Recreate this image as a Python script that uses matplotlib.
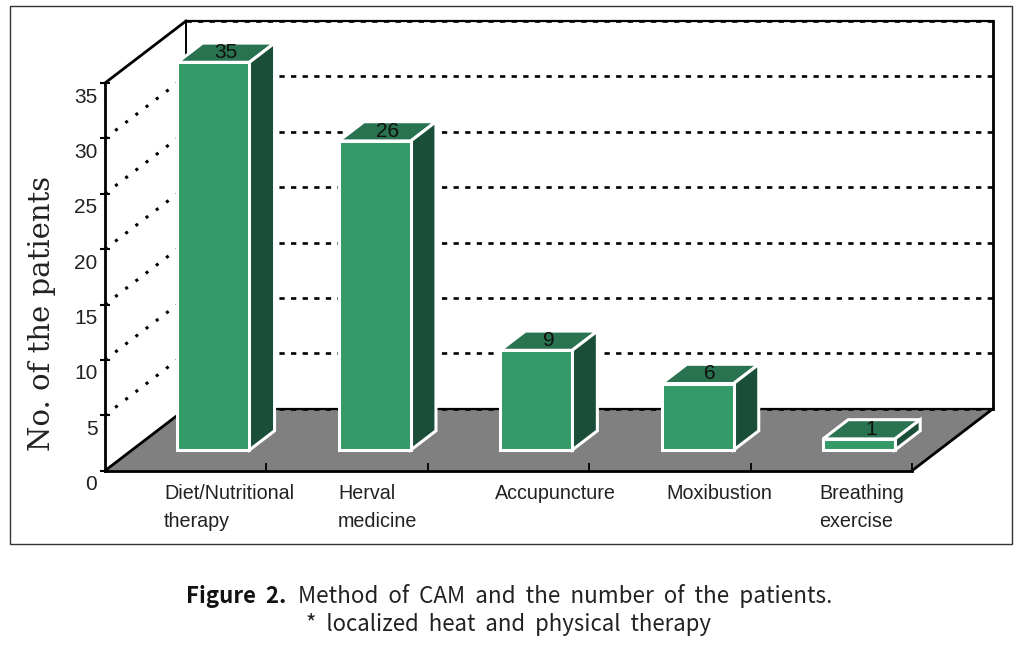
import matplotlib
matplotlib.use('Agg')
import matplotlib.pyplot as plt
from matplotlib.patches import Polygon, Rectangle
from matplotlib.transforms import ScaledTranslation

# values as drawn (the second bar is drawn taller than its label says)
categories = ['Diet/Nutritional\ntherapy', 'Herval\nmedicine', 'Accupuncture',
              'Moxibustion', 'Breathing\nexercise']
bar_heights = [35, 27.9, 9, 6, 1]
bar_labels = ['35', '26', '9', '6', '1']
y_ticks = [0, 5, 10, 15, 20, 25, 30, 35]

W, H = 1024, 649
GREEN, TOP, SIDE = '#339966', '#2a7350', '#1b4e38'

# oblique depth of the box, in data units
DX = 81 / 161.4
DY = 62 / 11.08
BAR_D = 0.31
BAR_W = 0.446
BAR_SHIFT = 0.172
BAR_BASE = 1.87
n = len(categories)
ymax = y_ticks[-1]

fig = plt.figure(figsize=(W / 100, H / 100), dpi=100)
ax = fig.add_axes([105 / W, (H - 470.7) / H, 807 / W, 387.7 / H])
ax.set_xlim(0, n)
ax.set_ylim(0, ymax)
ax.patch.set_visible(False)
for s in ['top', 'right']:
    ax.spines[s].set_visible(False)
for s in ['left', 'bottom']:
    ax.spines[s].set_linewidth(2)
    ax.spines[s].set_zorder(6)

# outer frame
fig.add_artist(Rectangle((9.5 / W, (H - 544) / H), 1002.5 / W, 538 / H, fill=False,
                         ec='#333333', lw=1, transform=fig.transFigure))

# floor
ax.add_patch(Polygon([(0, 0), (n, 0), (n + DX, DY), (DX, DY)], fc='#808080', ec='none',
                     zorder=1, clip_on=False))

# back wall and left wall lines
dash = (0, (2.0, 2.4))
dots = (0, (1.0, 3.2))
for v in y_ticks:
    ax.plot([DX, n + DX], [v + DY, v + DY], color='black', lw=1.9, ls=dash, zorder=2,
            clip_on=False)
    if v not in (0, ymax):
        ax.plot([0, DX], [v, v + DY], color='black', lw=2.2, ls=dots, zorder=2, clip_on=False)
ax.plot([DX, n + DX], [ymax + DY, ymax + DY], color='black', lw=1.6, zorder=2, clip_on=False)
ax.plot([DX, n + DX], [DY, DY], color='black', lw=1.6, zorder=2, clip_on=False)
ax.plot([DX, DX], [DY, ymax + DY], color='black', lw=1.4, zorder=2, clip_on=False)
ax.plot([n + DX, n + DX], [DY, ymax + DY], color='black', lw=2, zorder=2, clip_on=False)
ax.plot([0, DX], [ymax, ymax + DY], color='black', lw=2, zorder=2, clip_on=False)
ax.plot([0, DX], [0, DY], color='black', lw=2, zorder=2, clip_on=False)
ax.plot([n, n + DX], [0, DY], color='black', lw=2, zorder=2, clip_on=False)

# bars
centers = [i + 0.5 + BAR_SHIFT for i in range(n)]
ax.bar(centers, bar_heights, width=BAR_W, bottom=BAR_BASE, color=GREEN, edgecolor='white',
       linewidth=2.2, zorder=4, clip_on=False)
dx, dy = BAR_D * DX, BAR_D * DY
for c, h, lab in zip(centers, bar_heights, bar_labels):
    l, r = c - BAR_W / 2, c + BAR_W / 2
    b, t = BAR_BASE, BAR_BASE + h
    ax.add_patch(Polygon([(l, t), (r, t), (r + dx, t + dy), (l + dx, t + dy)], fc=TOP,
                         ec='white', lw=2.2, zorder=3, clip_on=False))
    ax.add_patch(Polygon([(r, b), (r + dx, b + dy), (r + dx, t + dy), (r, t)], fc=SIDE,
                         ec='white', lw=2.2, zorder=3, clip_on=False))
    ax.text(c + dx / 2, t + dy / 2, lab, ha='center', va='center', fontsize=15,
            family='Liberation Sans', color='#111111', zorder=5)

# axes ticks and labels
ax.set_yticks(y_ticks)
ax.set_xticks(range(1, n + 1))
ax.set_xticklabels([])
ax.tick_params(axis='y', direction='inout', length=7, width=1.5, pad=2, labelsize=15,
               labelcolor='#222222')
ax.tick_params(axis='x', direction='in', length=6, width=1.3)
offset = ScaledTranslation(0, -12 / 100, fig.dpi_scale_trans)
for tl in ax.get_yticklabels():
    tl.set_family('Liberation Sans')
    tl.set_transform(tl.get_transform() + offset)

label_left = [0.366, 1.443, 2.417, 3.476, 4.424]
for x, name in zip(label_left, categories):
    ax.text(x, -1.2, name, ha='left', va='top', fontsize=14.2, family='Liberation Sans',
            color='#222222', linespacing=1.6, clip_on=False)

ax.set_ylabel('No. of the patients', family='DejaVu Serif', fontsize=21, color='#222222')
ax.yaxis.set_label_coords((56 - 105) / 807, (470.7 - 313) / 387.7)

# caption
cap_font = 'Noto Sans CJK KR'
fig.text(186 / W, (H - 596) / H, 'Figure  2.', family=cap_font, weight='bold', fontsize=16,
         va='center', ha='left', color='#111111')
fig.text(298 / W, (H - 596) / H, 'Method  of  CAM  and  the  number  of  the  patients.',
         family=cap_font, fontsize=16.2, va='center', ha='left', color='#222222')
fig.text(508 / W, (H - 625) / H, '*  localized  heat  and  physical  therapy', family=cap_font,
         fontsize=16, va='center', ha='center', color='#222222')

fig.savefig('out.png', dpi=100)
